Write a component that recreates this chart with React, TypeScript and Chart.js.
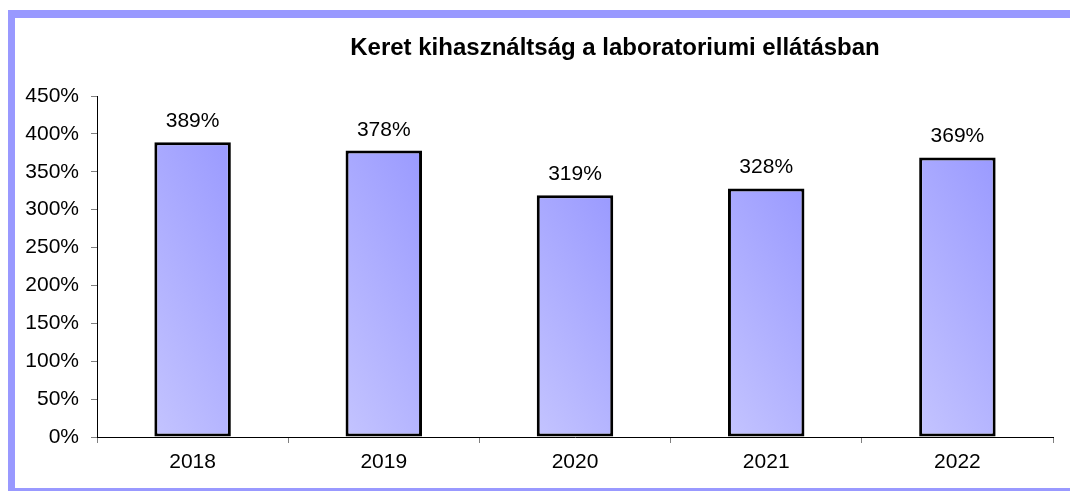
import React, { useEffect, useRef } from "react";
import { Chart, registerables } from "chart.js";

Chart.register(...registerables);

const TITLE = "Keret kihasználtság a laboratoriumi ellátásban";
const categories = ["2018", "2019", "2020", "2021", "2022"];
const values = [389, 378, 319, 328, 369];
const yTicks = [0, 50, 100, 150, 200, 250, 300, 350, 400, 450];

const FONT = "'Liberation Sans', Arial, sans-serif";

const labelsPlugin = {
  id: "customLabels",
  afterDatasetsDraw(chart: any) {
    const ctx = chart.ctx;
    const meta = chart.getDatasetMeta(0);
    ctx.save();
    ctx.fillStyle = "#000";
    ctx.font = `21px ${FONT}`;
    ctx.textAlign = "center";
    ctx.textBaseline = "alphabetic";
    meta.data.forEach((el: any, i: number) => {
      ctx.fillText(values[i] + "%", el.x, el.y - 15);
    });
    ctx.restore();
  },
  afterDraw(chart: any) {
    const ctx = chart.ctx;
    ctx.save();
    ctx.fillStyle = "#000";
    ctx.font = `bold 24px ${FONT}`;
    ctx.textAlign = "center";
    ctx.textBaseline = "alphabetic";
    ctx.fillText(TITLE, 615, 55);
    ctx.restore();
  },
};

export default function App() {
  const ref = useRef<HTMLCanvasElement>(null);
  useEffect(() => {
    if (!ref.current) return;
    const chart = new Chart(ref.current, {
      type: "bar",
      data: {
        labels: categories,
        datasets: [
          {
            data: values,
            borderColor: "#000000",
            borderWidth: 3,
            borderSkipped: false,
            barPercentage: 0.4,
            categoryPercentage: 1,
            backgroundColor: (c: any) => {
              const ch = c.chart;
              const sx = ch.scales?.x;
              const sy = ch.scales?.y;
              if (!ch.chartArea || !sx || !sy || c.dataIndex === undefined) return "#AAAAFF";
              const cx = sx.getPixelForValue(c.dataIndex);
              const w = (sx.width / categories.length) * 0.4;
              const top = sy.getPixelForValue(values[c.dataIndex]);
              const bottom = sy.getPixelForValue(0);
              const h = Math.max(1, bottom - top);
              const gx = -14 / w;
              const gy = 26 / h;
              const g2 = gx * gx + gy * gy;
              const x0 = cx + w / 2;
              const y0 = top;
              const x1 = x0 + (gx * 40) / g2;
              const y1 = y0 + (gy * 40) / g2;
              const g = ch.ctx.createLinearGradient(x0, y0, x1, y1);
              g.addColorStop(0, "rgb(154,154,255)");
              g.addColorStop(1, "rgb(196,196,255)");
              return g;
            },
          },
        ],
      },
      options: {
        animation: false,
        responsive: false,
        devicePixelRatio: 1,
        layout: { padding: { top: 96, right: 17, left: 0, bottom: 0 } },
        plugins: {
          legend: { display: false },
          title: { display: false },
          tooltip: { enabled: false },
        },
        scales: {
          x: {
            grid: {
              offset: true,
              drawOnChartArea: false,
              drawTicks: true,
              tickLength: 6,
              color: "#808080",
            },
            border: { display: true, color: "#000000", width: 1 },
            ticks: {
              color: "#000",
              font: { family: FONT, size: 21 },
              padding: 7,
            },
            afterFit: (s: any) => {
              s.height = 54;
            },
          },
          y: {
            min: 0,
            max: 450,
            afterBuildTicks: (s: any) => {
              s.ticks = yTicks.map((v) => ({ value: v }));
            },
            grid: {
              drawOnChartArea: false,
              drawTicks: true,
              tickLength: 6,
              color: "#808080",
            },
            border: { display: true, color: "#000000", width: 1 },
            ticks: {
              color: "#000",
              font: { family: FONT, size: 21 },
              padding: 12,
              callback: (v: any) => v + "%",
            },
            afterFit: (s: any) => {
              s.width = 97;
            },
          },
        },
      },
      plugins: [labelsPlugin],
    });
    return () => chart.destroy();
  }, []);

  return (
    <div
      style={{
        position: "fixed",
        left: 0,
        top: 0,
        width: 1070,
        height: 491,
        overflow: "hidden",
        background: "#fff",
      }}
    >
      <div
        style={{
          position: "absolute",
          left: 8,
          top: 10,
          width: 1100,
          height: 485,
          boxSizing: "border-box",
          borderLeft: "7px solid #9999FF",
          borderTop: "8px solid #9999FF",
          borderBottom: "7px solid #9999FF",
        }}
      />
      <canvas
        ref={ref}
        width={1070}
        height={491}
        style={{ position: "absolute", left: 0, top: 0, width: 1070, height: 491 }}
      />
    </div>
  );
}
